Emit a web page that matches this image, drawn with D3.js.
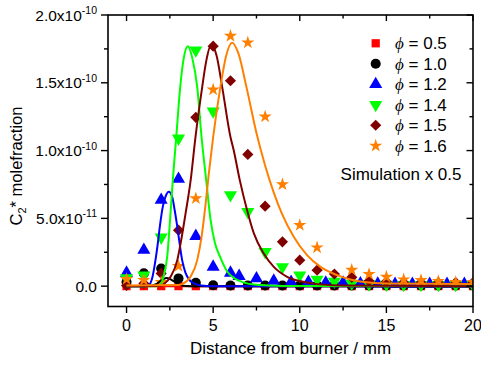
<!DOCTYPE html>
<html>
<head>
<meta charset="utf-8">
<script src="https://cdn.jsdelivr.net/npm/d3@7"></script>
<style>
  body { margin: 0; background: #fff; }
  svg { display: block; font-family: "Liberation Sans", Arial, sans-serif; }
</style>
</head>
<body>
<svg id="chart" width="481" height="365"></svg>
<script>
// values are in units of 1e-11 molefraction
const UNIT = 1e-11;

const distances = d3.range(0, 21);           // 0..20 mm
const blueDistances = [0, 1, 2, 3, 4, 5, 6, 6.5, 7.5, 8.5, 9.5, 10.5, 11.5, 12.5, 13.5, 14.5, 15.5, 16.5, 17.5, 18.5, 19.5];

const phi05 = [0, 0, 0, 0, 0, 0, 0, 0, 0, 0, 0, 0, 0, 0, 0, 0, 0, 0, 0, 0, 0];
const phi10 = [0.3, 0.94, 1.3, 0.57, 0.25, 0.07, 0.05, 0.05, 0.05, 0.05, 0.05, 0.05, 0.05, 0.05, 0.05, 0.05, 0.05, 0.05, 0.05, 0.05, 0.05];
const phi12 = [0.98, 2.66, 6.35, 7.9, 3.69, 1.42, 0.98, 0.74, 0.57, 0.39, 0.3, 0.3, 0.25, 0.25, 0.2, 0.18, 0.15, 0.15, 0.15, 0.15, 0.15];
const phi14 = [0.6, 0.81, 3.6, 10.9, 17.4, 12.9, 6.72, 5.48, 2.53, 1.42, 0.81, 0.49, 0.35, 0.2, 0.15, 0.12, 0.1, 0.1, 0.1, 0.1, 0.1];
const phi15 = [0.05, 0.2, 0.94, 4.13, 12.45, 17.7, 15.15, 9.72, 5.9, 3.27, 1.92, 1.18, 0.9, 0.65, 0.39, 0.33, 0.27, 0.27, 0.27, 0.27, 0.27];
const phi16 = [0.52, 0.44, 0.3, 1.48, 6.47, 14.5, 18.45, 17.96, 12.5, 7.5, 4.5, 2.85, null, 1.2, 0.89, 0.69, 0.49, 0.44, 0.37, 0.3, 0.3];

// simulation curves (x in mm, value in 1e-11)
const sim05 = [[0, 0], [20, 0]];
const sim10 = [[0, 0], [1.3, 0.02], [1.7, 0.15], [2.0, 0.42], [2.3, 0.6], [2.55, 0.5], [2.8, 0.3], [3.05, 0.1], [3.4, 0.02], [4, 0], [20, 0]];
const sim12 = [[0, 0], [1.0, 0], [1.3, 0.1], [1.5, 0.7], [1.67, 1.92], [1.8, 3.1], [1.92, 4.38], [2.1, 5.9], [2.25, 6.6], [2.44, 6.96], [2.63, 6.6], [2.78, 5.6], [2.93, 4.38], [3.07, 3.1], [3.21, 1.92], [3.4, 1.0], [3.6, 0.5], [3.9, 0.2], [4.3, 0.05], [5, 0], [20, 0]];
const sim14 = [[0, 0], [1.7, 0], [1.96, 0.1], [2.15, 0.8], [2.35, 2.2], [2.54, 5.4], [2.67, 7.8], [2.87, 11.0], [3.1, 14.7], [3.3, 16.8], [3.54, 17.7], [3.8, 16.8], [4.08, 14.7], [4.33, 11.0], [4.6, 7.8], [4.85, 4.9], [5.1, 3.2], [5.42, 2.1], [5.8, 1.1], [6.2, 0.6], [6.7, 0.3], [7.5, 0.1], [9, 0.02], [20, 0]];
const sim15 = [[0, 0], [2.0, 0.03], [2.15, 0.15], [2.54, 0.69], [2.93, 1.92], [3.12, 3.15], [3.4, 5.3], [3.7, 7.8], [3.98, 11.0], [4.37, 14.7], [4.6, 16.6], [4.89, 17.8], [5.2, 17.0], [5.52, 14.7], [6.0, 11.0], [6.19, 10.0], [6.54, 7.8], [6.96, 5.6], [7.35, 3.89], [7.92, 2.41], [8.5, 1.42], [9.27, 0.69], [10.2, 0.32], [11, 0.15], [12.5, 0.05], [20, 0]];
const sim16 = [[0, 0.05], [3.0, 0.08], [3.2, 0.15], [3.69, 0.69], [4.08, 1.92], [4.35, 3.8], [4.55, 5.9], [4.75, 8.3], [5.0, 11.0], [5.42, 14.7], [5.75, 17.0], [6.1, 17.96], [6.45, 17.2], [6.92, 14.7], [7.5, 11.3], [8.0, 8.9], [8.5, 6.9], [8.95, 5.4], [9.65, 3.64], [10.42, 2.29], [11.2, 1.42], [12.16, 0.81], [13.7, 0.3], [15, 0.2], [20, 0.15]];

const legendLabels = ["0.5", "1.0", "1.2", "1.4", "1.5", "1.6"];
const colors = ["#ff0000", "#000000", "#0000ff", "#00ff00", "#800000", "#ff8000"];

const xMajor = [0, 5, 10, 15, 20];
const xMinor = [2.5, 7.5, 12.5, 17.5];
const yMajor = [0, 5e-11, 1.0e-10, 1.5e-10, 2.0e-10];
const yMinor = [2.5e-11, 7.5e-11, 1.25e-10, 1.75e-10];
const yLabels = [["0.0", ""], ["5.0x10", "-11"], ["1.0x10", "-10"], ["1.5x10", "-10"], ["2.0x10", "-10"]];

const series = [
  { xs: distances, ys: phi05, sim: sim05, symbol: d3.symbolSquare, size: 68, rot: 0 },
  { xs: distances, ys: phi10, sim: sim10, symbol: d3.symbolCircle, size: 80, rot: 0 },
  { xs: blueDistances, ys: phi12, sim: sim12, symbol: d3.symbolTriangle, size: 74, rot: 0 },
  { xs: distances, ys: phi14, sim: sim14, symbol: d3.symbolTriangle, size: 74, rot: 180 },
  { xs: distances, ys: phi15, sim: sim15, symbol: d3.symbolSquare, size: 62, rot: 45 },
  { xs: distances, ys: phi16, sim: sim16, symbol: d3.symbolStar, size: 54, rot: 0 }
];

const svg = d3.select("#chart");
const pLeft = 108, pRight = 473, pTop = 15, pBottom = 306.5;

const x = d3.scaleLinear().domain([-1.07, 20]).range([pLeft, pRight]);
const y = d3.scaleLinear().domain([-1.5e-11, 2.0e-10]).range([pBottom, pTop]);

svg.append("defs").append("clipPath").attr("id", "plot")
  .append("rect").attr("x", pLeft).attr("y", pTop)
  .attr("width", pRight - pLeft).attr("height", pBottom - pTop);

const plot = svg.append("g").attr("clip-path", "url(#plot)");

// markers
series.forEach((s, i) => {
  const pts = s.xs.map((d, j) => [d, s.ys[j]]).filter(p => p[1] != null);
  plot.append("g")
    .selectAll("path")
    .data(pts)
    .enter()
    .append("path")
    .attr("d", d3.symbol().type(s.symbol).size(s.size))
    .attr("transform", d => `translate(${x(d[0])},${y(d[1] * UNIT)}) rotate(${s.rot})`)
    .attr("fill", colors[i]);
});

// simulation lines
const line = d3.line()
  .x(d => x(d[0]))
  .y(d => y(d[1] * UNIT))
  .curve(d3.curveMonotoneX);

series.forEach((s, i) => {
  plot.append("path")
    .datum(s.sim)
    .attr("d", line)
    .attr("fill", "none")
    .attr("stroke", colors[i])
    .attr("stroke-width", 2);
});

// axes
const axisG = svg.append("g").attr("stroke", "#000").attr("stroke-width", 1.4);

function ticksH(vals, y0, len) {
  vals.forEach(v => axisG.append("line")
    .attr("x1", x(v)).attr("x2", x(v)).attr("y1", y0).attr("y2", y0 + len));
}
function ticksV(vals, x0, len) {
  vals.forEach(v => axisG.append("line")
    .attr("y1", y(v)).attr("y2", y(v)).attr("x1", x0).attr("x2", x0 + len));
}
ticksH(xMajor, pBottom, 6.5);
ticksH(xMinor, pBottom, 4);
ticksH(xMajor, pTop, 6);
ticksH(xMinor, pTop, 3.5);
ticksV(yMajor, pLeft, -7);
ticksV(yMinor, pLeft, -4);
ticksV(yMajor, pRight, -6.5);
ticksV(yMinor, pRight, -3.5);

axisG.append("rect")
  .attr("x", pLeft).attr("y", pTop)
  .attr("width", pRight - pLeft).attr("height", pBottom - pTop)
  .attr("fill", "none").attr("stroke-width", 1.6);

svg.append("g").selectAll("text")
  .data(xMajor)
  .enter()
  .append("text")
  .attr("x", d => x(d))
  .attr("y", 330.5)
  .attr("text-anchor", "middle")
  .attr("font-size", 16)
  .text(d => d);

const yl = svg.append("g").selectAll("text")
  .data(yMajor)
  .enter()
  .append("text")
  .attr("x", 97)
  .attr("y", d => y(d) + 5.5)
  .attr("text-anchor", "end")
  .attr("font-size", 15.5);
yl.append("tspan").text((d, i) => yLabels[i][0]);
yl.append("tspan").attr("font-size", 10.5).attr("dy", -6.5).text((d, i) => yLabels[i][1]);

svg.append("text")
  .attr("x", (pLeft + pRight) / 2)
  .attr("y", 354)
  .attr("text-anchor", "middle")
  .attr("font-size", 17)
  .text("Distance from burner / mm");

const yt = svg.append("text")
  .attr("transform", "translate(22,166) rotate(-90)")
  .attr("text-anchor", "middle")
  .attr("font-size", 16.5);
yt.append("tspan").text("C");
yt.append("tspan").attr("font-size", 11).attr("dy", 4).text("2");
yt.append("tspan").attr("dy", -4).text("* molefraction");

// legend
const legend = svg.append("g");
series.forEach((s, i) => {
  const ly = 43.3 + i * 20.5;
  legend.append("path")
    .attr("d", d3.symbol().type(s.symbol).size(s.size))
    .attr("transform", `translate(375.7,${ly}) rotate(${s.rot})`)
    .attr("fill", colors[i]);
  const t = legend.append("text")
    .attr("x", 395)
    .attr("y", ly + 6)
    .attr("font-size", 17);
  t.append("tspan").attr("font-family", "'Liberation Serif', serif").attr("font-style", "italic").text("\u03D5");
  t.append("tspan").text(" = " + legendLabels[i]);
});

svg.append("text")
  .attr("x", 461.5)
  .attr("y", 180)
  .attr("text-anchor", "end")
  .attr("font-size", 17)
  .text("Simulation x 0.5");
</script>
</body>
</html>
